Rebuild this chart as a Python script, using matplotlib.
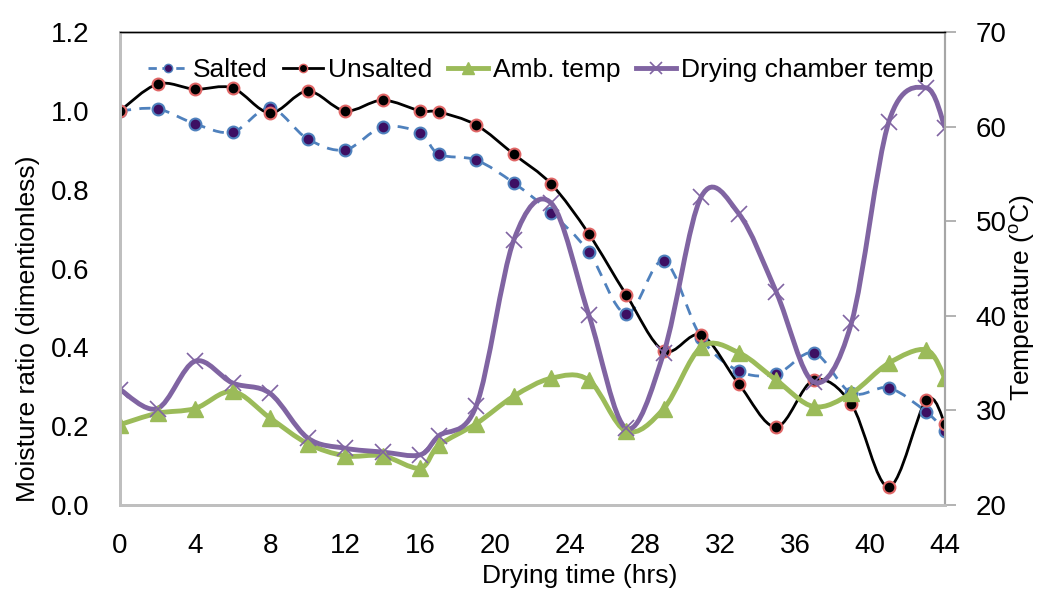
import numpy as np
import matplotlib.pyplot as plt
from matplotlib.path import Path
from matplotlib.patches import PathPatch
from matplotlib.lines import Line2D

plt.rcParams['font.family'] = ['Liberation Sans', 'DejaVu Sans']

# values
hours = [0, 2, 4, 6, 8, 10, 12, 14, 16, 17, 19, 21, 23, 25, 27, 29, 31, 33, 35, 37, 39, 41, 43, 44]
salted = [1.00, 1.005, 0.967, 0.946, 1.007, 0.929, 0.901, 0.959, 0.944, 0.890, 0.875, 0.817,
          0.741, 0.642, 0.485, 0.619, 0.424, 0.340, 0.332, 0.386, 0.284, 0.297, 0.236, 0.188]
unsalted = [1.00, 1.068, 1.055, 1.058, 0.995, 1.050, 1.00, 1.027, 1.00, 0.997, 0.964, 0.890,
            0.814, 0.688, 0.533, 0.391, 0.431, 0.307, 0.198, 0.317, 0.256, 0.046, 0.266, 0.206]
amb_temp = [28.5, 29.7, 30.2, 32.0, 29.2, 26.5, 25.2, 25.2, 23.9, 26.3, 28.6, 31.5,
            33.4, 33.2, 27.8, 30.2, 36.7, 36.1, 33.2, 30.4, 31.8, 35.0, 36.4, 33.4]
chamber_temp = [32.2, 30.2, 35.2, 32.9, 31.8, 27.1, 26.0, 25.6, 25.3, 27.3, 30.5, 48.0,
                51.9, 40.1, 28.1, 36.1, 52.6, 50.8, 42.5, 33.0, 39.2, 60.5, 64.1, 59.9]


def smooth_path(x, y):
    # Excel style smoothed line: cubic bezier through every point
    pts = np.column_stack([x, y]).astype(float)
    ext = np.vstack([pts[0], pts, pts[-1]])
    verts = [pts[0]]
    codes = [Path.MOVETO]
    for i in range(len(pts) - 1):
        p0, p1, p2, p3 = ext[i], ext[i + 1], ext[i + 2], ext[i + 3]
        verts += [p1 + (p2 - p0) / 6, p2 - (p3 - p1) / 6, p2]
        codes += [Path.CURVE4] * 3
    return Path(verts, codes)


blue = '#4f81bd'
dot = '#3d0f63'
red = '#e06666'
green = '#9bbb59'
purple = '#8064a2'

fig = plt.figure(figsize=(10.4, 5.93), dpi=100)
ax = fig.add_axes([0.1154, 0.1484, 0.7933, 0.7976])
ax2 = ax.twinx()

ax.add_patch(PathPatch(smooth_path(hours, salted), fill=False, edgecolor=blue, lw=2,
                       linestyle=(0, (4, 3))))
ax.plot(hours, salted, ls='none', marker='o', ms=8.5, mfc=dot, mec=blue, mew=1.5)
ax.add_patch(PathPatch(smooth_path(hours, unsalted), fill=False, edgecolor='black', lw=2))
ax.plot(hours, unsalted, ls='none', marker='o', ms=8.5, mfc='black', mec=red, mew=1.5)

ax2.add_patch(PathPatch(smooth_path(hours, amb_temp), fill=False, edgecolor=green, lw=3.5))
ax2.plot(hours, amb_temp, ls='none', marker='^', ms=11, color=green)
ax2.add_patch(PathPatch(smooth_path(hours, chamber_temp), fill=False, edgecolor=purple, lw=3.5))
ax2.plot(hours, chamber_temp, ls='none', marker='x', ms=11, mew=1.2, color=purple)

ax.set_xlim(0, 44)
ax.set_ylim(0, 1.2)
ax2.set_ylim(20, 70)
ax.set_xticks(np.arange(0, 45, 4))
ax.set_yticks(np.arange(0, 1.21, 0.2))
ax.set_yticklabels(['%.1f' % v for v in np.arange(0, 1.21, 0.2)])
ax2.set_yticks(np.arange(20, 71, 10))

ax.tick_params(axis='x', length=0, pad=20, labelsize=20)
ax.tick_params(axis='y', length=0, pad=22, labelsize=20)
ax2.tick_params(axis='y', length=8, width=1.2, color='#a6a6a6', pad=14, labelsize=20)

for a in (ax, ax2):
    a.spines['left'].set_color('#bfbfbf')
    a.spines['left'].set_linewidth(2)
    a.spines['bottom'].set_color('#bfbfbf')
    a.spines['bottom'].set_linewidth(2)
    a.spines['right'].set_color('#a6a6a6')
    a.spines['right'].set_linewidth(1.5)
    a.spines['top'].set_color('black')
    a.spines['top'].set_linewidth(1)

ax.set_xlabel('Drying time (hrs)', fontsize=19)
ax.set_ylabel('Moisture ratio (dimentionless)', fontsize=19)
ax2.set_ylabel(r'Temperature ($\mathregular{^o}$C)', fontsize=19)
ax.xaxis.set_label_coords(0.5576, -0.150)
ax.yaxis.set_label_coords(-0.112, 0.372)
ax2.yaxis.set_label_coords(1.094, 0.438)
for lab in (ax.xaxis.label, ax.yaxis.label, ax2.yaxis.label):
    lab.set_ha('center')
    lab.set_va('center')

handles = [
    Line2D([], [], color=blue, lw=2, ls=(0, (3, 2)), marker='o', ms=6, mfc=dot, mec=blue),
    Line2D([], [], color='black', lw=2, marker='o', ms=6, mfc='black', mec=red),
    Line2D([], [], color=green, lw=3.5, marker='^', ms=9),
    Line2D([], [], color=purple, lw=3.5, marker='x', ms=9, mew=1.2),
]
labels = ['Salted', 'Unsalted', 'Amb. temp', 'Drying chamber temp']
ax2.legend(handles, labels, loc='upper center', bbox_to_anchor=(0.51, 1.0), ncol=4,
           frameon=False, fontsize=19, handlelength=1.5, handletextpad=0.2,
           columnspacing=0.6, borderaxespad=0.6)

fig.savefig('out.png', dpi=100)
